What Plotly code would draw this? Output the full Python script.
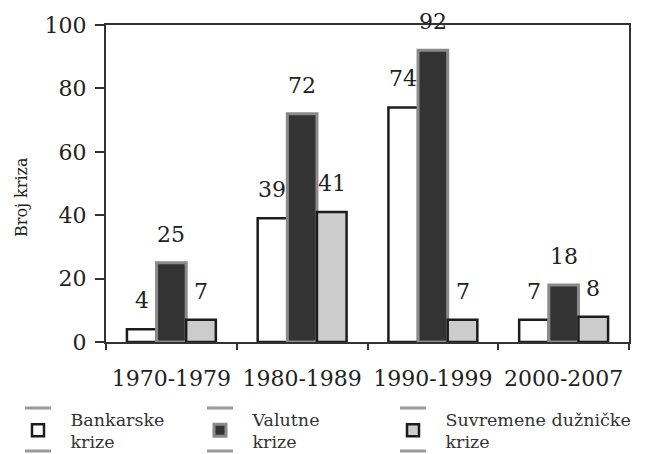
import plotly.graph_objects as go

categories = ["1970-1979", "1980-1989", "1990-1999", "2000-2007"]
bankarske = [4, 39, 74, 7]
valutne = [25, 72, 92, 18]
suvremene = [7, 41, 7, 8]
series_names = ["Bankarske<br>krize", "Valutne<br>krize", "Suvremene dužničke<br>krize"]
y_ticks = [0, 20, 40, 60, 80, 100]
y_title = "Broj kriza"

FONT = "DejaVu Serif"
TXT = "#222222"
# the page body adds an 8px offset, so the figure is 8px smaller than the window
WIDTH, HEIGHT = 642, 446
L, R, T, B = 98, 21, 17, 112
PW = WIDTH - L - R
PH = HEIGHT - T - B
BARGAP = 0.32
ITEMW = 55
KEY_CX = [30, 212, 405]      # legend key centres (figure px)
LEGEND_TOP = 393


def px_x(fx):
    return (fx - L) / PW


def px_y(fy):
    return (T + PH - fy) / PH


styles = [
    dict(color="#ffffff", line=dict(color="#1c1c1c", width=2.5)),
    dict(color="#333333", line=dict(color="#8a8a8a", width=3)),
    dict(color="#cccccc", line=dict(color="#1c1c1c", width=2.5)),
]
series = [bankarske, valutne, suvremene]
legend_ids = ["legend", "legend2", "legend3"]

fig = go.Figure()
for name, vals, st, lg in zip(series_names, series, styles, legend_ids):
    fig.add_trace(go.Bar(x=categories, y=vals, name=name, marker=st, legend=lg))

bar_px = PW / len(categories) * (1 - BARGAP) / len(series)
for k, vals in enumerate(series):
    for c, v in zip(categories, vals):
        fig.add_annotation(
            x=c, y=v, text=str(v), showarrow=False,
            xshift=(k - 1) * bar_px, yanchor="bottom", yshift=14,
            font=dict(family=FONT, size=22, color=TXT),
        )

fig.add_annotation(
    xref="paper", yref="paper", x=px_x(13), y=px_y(189),
    xanchor="center", yanchor="middle",
    text=y_title, textangle=-90, showarrow=False,
    font=dict(family=FONT, size=16, color=TXT),
)

# decorative grey bars above/below each legend key (as in the original)
for cx in KEY_CX:
    for fy in [400, 443]:
        fig.add_shape(
            type="line", xref="paper", yref="paper",
            x0=px_x(cx - 13), x1=px_x(cx + 13),
            y0=px_y(fy), y1=px_y(fy),
            line=dict(color="#9a9a9a", width=3),
        )

legends = {}
for lg, cx in zip(legend_ids, KEY_CX):
    legends[lg] = dict(
        x=px_x(cx - ITEMW / 2 - 5), xanchor="left",
        y=px_y(LEGEND_TOP), yanchor="top",
        font=dict(family=FONT, size=17.5, color="#333333"),
        itemwidth=ITEMW, valign="middle", bgcolor="rgba(0,0,0,0)",
    )

fig.update_layout(
    width=WIDTH, height=HEIGHT,
    font=dict(family=FONT, color=TXT),
    margin=dict(l=L, r=R, t=T, b=B, autoexpand=False),
    plot_bgcolor="white", paper_bgcolor="white",
    barmode="group", bargap=BARGAP, bargroupgap=0,
    showlegend=True,
    xaxis=dict(
        type="category", showline=True, linecolor="#333333", linewidth=2,
        mirror=True, ticks="outside", tickson="boundaries", ticklen=6,
        tickcolor="#333333", tickwidth=2, ticklabelstandoff=16,
        tickfont=dict(family=FONT, size=22, color=TXT),
        showgrid=False,
    ),
    yaxis=dict(
        range=[0, 100], tickvals=y_ticks, showline=True, linecolor="#333333",
        linewidth=2, mirror=True, ticks="outside", ticklen=9,
        tickcolor="#333333", tickwidth=2, ticklabelstandoff=4,
        tickfont=dict(family=FONT, size=22, color=TXT),
        showgrid=False, zeroline=False,
    ),
    **legends,
)

fig.write_html("out.html")
